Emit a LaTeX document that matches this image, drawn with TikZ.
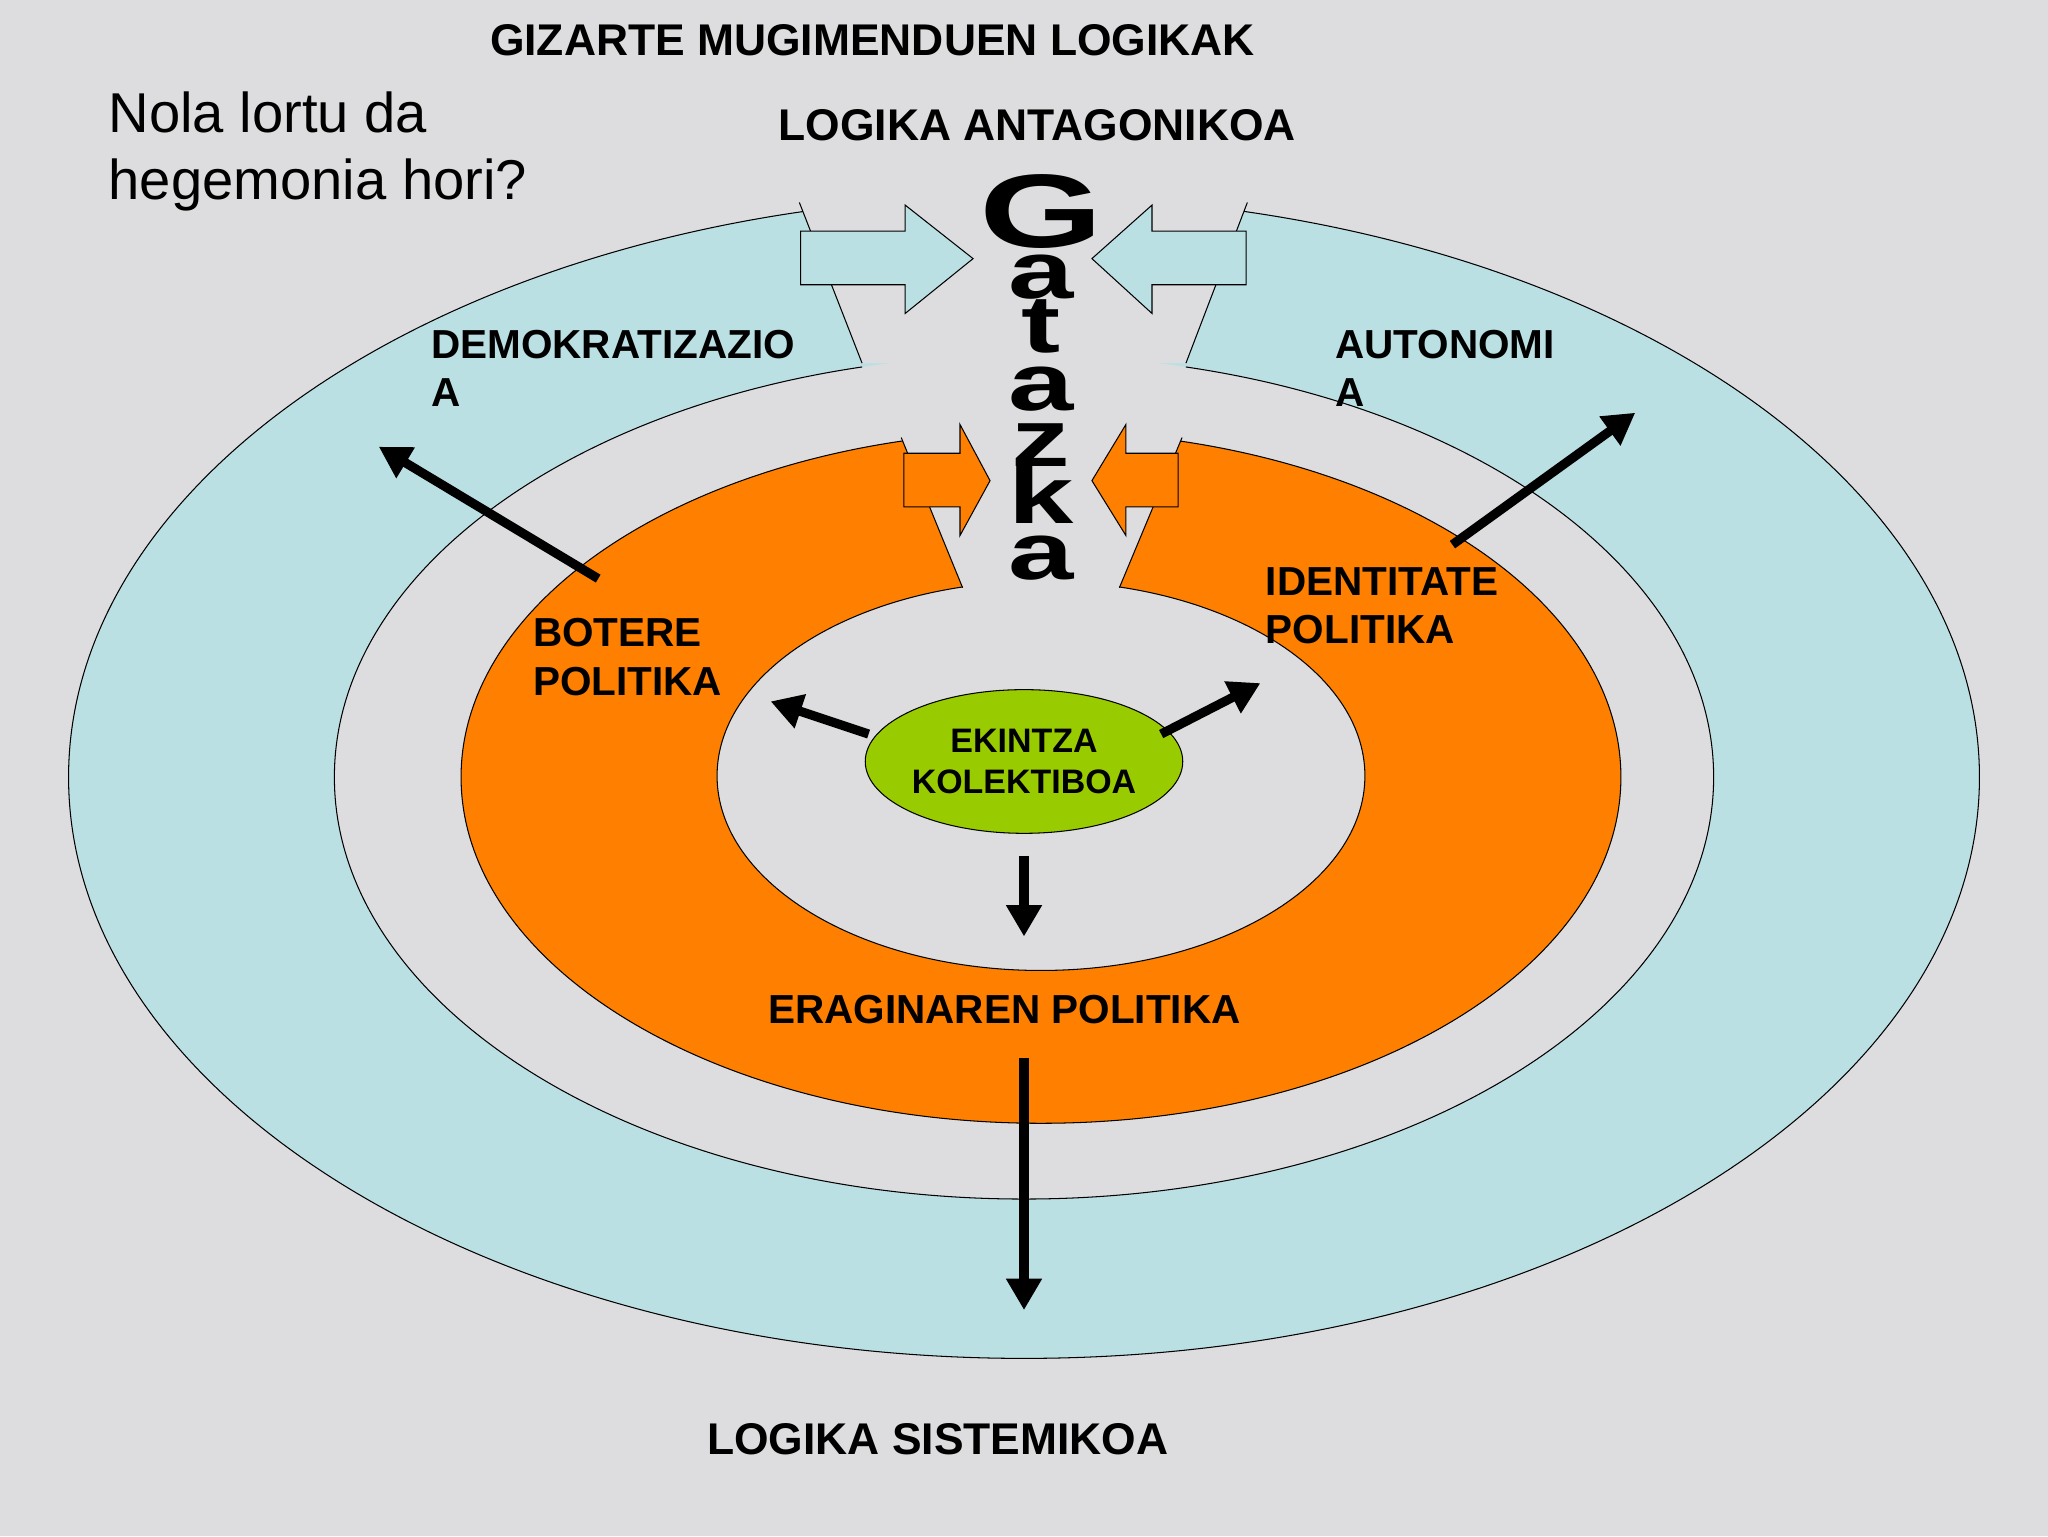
\documentclass[tikz,border=0pt]{standalone}
\usepackage{fontspec}
\setmainfont{Liberation Sans}
\usetikzlibrary{arrows.meta,shapes.geometric}
\definecolor{bg}{RGB}{221,221,223}
\definecolor{lblue}{RGB}{187,224,227}
\definecolor{orng}{RGB}{255,128,0}
\definecolor{grn}{RGB}{153,204,0}
\tikzset{
 lbl/.style={font=\fontsize{31}{37}\selectfont\bfseries, align=left, anchor=west, inner sep=0},
 ttl/.style={font=\fontsize{34}{40}\selectfont\bfseries, anchor=center, inner sep=0},
 big/.style={line width=7pt, -{Triangle[length=24pt,width=26pt]}},
 gl/.style={font=\fontsize{62}{62}\selectfont\bfseries, inner sep=0, xscale=1.45},
 thin/.style={line width=0.8pt}
}
\begin{document}
\begin{tikzpicture}[x=1pt,y=-1pt]
\fill[bg] (0,0) rectangle (1568,1176);
\useasboundingbox (0,0) rectangle (1568,1176);
% outer blue ring
\filldraw[fill=lblue,thin] (784,595) ellipse [x radius=731.5, y radius=445];
\fill[bg] (612,140) -- (612,155) -- (660,278) -- (908,278) -- (955,155) -- (955,140) -- cycle;
\fill[bg] (784,595) ellipse [x radius=528, y radius=323];
\begin{scope}[even odd rule]
 \clip (0,0) rectangle (1568,1176) (660,0) rectangle (908,300);
 \draw[thin] (784,595) ellipse [x radius=528, y radius=323];
\end{scope}
\draw[thin] (612,155) -- (660,278);
\draw[thin] (955,155) -- (908,278);
% orange ring
\filldraw[fill=orng,thin] (797,595) ellipse [x radius=444, y radius=265];
\fill[bg] (690,318) -- (690,335) -- (737,450) -- (857,450) -- (905,335) -- (905,318) -- cycle;
\fill[bg] (797,594) ellipse [x radius=248, y radius=149];
\begin{scope}[even odd rule]
 \clip (0,0) rectangle (1568,1176) (737,300) rectangle (857,470);
 \draw[thin] (797,594) ellipse [x radius=248, y radius=149];
\end{scope}
\draw[thin] (690,335) -- (737,450);
\draw[thin] (905,335) -- (857,450);
% block arrows
\filldraw[fill=lblue,thin] (613,177) -- (693,177) -- (693,157) -- (745,198) -- (693,240) -- (693,218) -- (613,218) -- cycle;
\filldraw[fill=lblue,thin] (954,177) -- (882,177) -- (882,157) -- (836,198) -- (882,240) -- (882,218) -- (954,218) -- cycle;
\filldraw[fill=orng,thin] (692,347) -- (735,347) -- (735,325) -- (758,368) -- (735,410) -- (735,388) -- (692,388) -- cycle;
\filldraw[fill=orng,thin] (902,347) -- (862,347) -- (862,325) -- (836,368) -- (862,410) -- (862,388) -- (902,388) -- cycle;
% Gatazka
\node[gl,font=\fontsize{80}{80}\selectfont\bfseries,xscale=1.05] (g1) at (797,162) {G};
\node[gl] (g2) at (797,212) {a};
\node[gl] (g3) at (797,250) {t};
\node[gl] (g4) at (797,298) {a};
\node[gl] (g5) at (797,341) {z};
\node[gl] (g6) at (797,378) {k};
\node[gl] (g7) at (797,427) {a};
% center
\node[draw,thin,fill=grn,ellipse,minimum width=210pt,minimum height=110pt,inner sep=0,align=center,
 font=\fontsize{26}{32}\selectfont\bfseries] (ek) at (784,583) {EKINTZA\\KOLEKTIBOA};
% arrows
\coordinate (a1s) at (458,443); \coordinate (a1e) at (290,342);
\coordinate (a2s) at (1112,417); \coordinate (a2e) at (1252,316);
\coordinate (a3s) at (665,562); \coordinate (a3e) at (590,537);
\coordinate (a4s) at (889,562); \coordinate (a4e) at (965,523);
\coordinate (a5s) at (784,655); \coordinate (a5e) at (784,717);
\coordinate (a6s) at (784,810); \coordinate (a6e) at (784,1003);
\draw[big] (a1s) -- (a1e);
\draw[big] (a2s) -- (a2e);
\draw[big] (a3s) -- (a3e);
\draw[big] (a4s) -- (a4e);
\draw[big] (a5s) -- (a5e);
\draw[big] (a6s) -- (a6e);
% labels
\node[ttl] (t1) at (668,31) {GIZARTE MUGIMENDUEN LOGIKAK};
\node[ttl] (t2) at (794,96) {LOGIKA ANTAGONIKOA};
\node[ttl] (t3) at (718,1102) {LOGIKA SISTEMIKOA};
\node[lbl,anchor=center] (t4) at (769,773) {ERAGINAREN POLITIKA};
\node[lbl] (dem) at (330,282) {DEMOKRATIZAZIO\\A};
\node[lbl] (aut) at (1022,282) {AUTONOMI\\A};
\node[lbl] (bot) at (408,503) {BOTERE\\POLITIKA};
\node[lbl] (ide) at (969,464) {IDENTITATE\\POLITIKA};
\node[anchor=west,align=left,inner sep=0,font=\fontsize{43}{52}\selectfont] (nola) at (83,116) {Nola lortu da\\hegemonia hori?};
\end{tikzpicture}
\end{document}
